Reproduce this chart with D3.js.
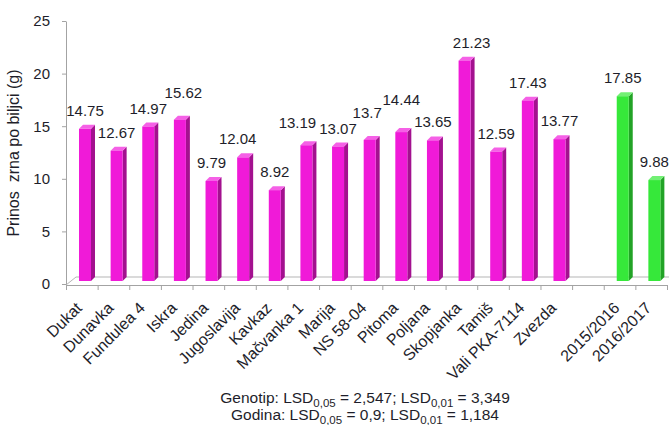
<!DOCTYPE html>
<html lang="sr">
<head>
<meta charset="UTF-8" />
<title>Prinos zrna po biljci</title>
<script src="https://d3js.org/d3.v7.min.js"></script>
<style>
  body { margin: 0; background: #fff; }
  text { font-family: "Liberation Sans", Arial, sans-serif; fill: #1e1e2a; }
  .axis path, .axis line { stroke: #a3a3a3; }
</style>
</head>
<body>
<svg width="669" height="425"></svg>
<script>
var genotypes = ["Dukat", "Dunavka", "Fundulea 4", "Iskra", "Jedina", "Jugoslavija", "Kavkaz",
  "Mačvanka 1", "Marija", "NS 58-04", "Pitoma", "Poljana", "Skopjanka", "Tamiš",
  "Vali PKA-7114", "Zvezda"];
var genotypeValues = [14.75, 12.67, 14.97, 15.62, 9.79, 12.04, 8.92, 13.19, 13.07, 13.7,
  14.44, 13.65, 21.23, 12.59, 17.43, 13.77];
var years = ["2015/2016", "2016/2017"];
var yearValues = [17.85, 9.88];
var yTicks = [0, 5, 10, 15, 20, 25];

// hand-placed value labels in the original
var labelNudge = {
  "Iskra": [3.5, -9], "Jugoslavija": [-5.5, 0], "Mačvanka 1": [-9, -4],
  "NS 58-04": [-2.5, -9], "Pitoma": [0, -14], "Skopjanka": [7, 0]
};

var svg = d3.select("svg");
var plotLeft = 66, plotRight = 667, plotBase = 284, plotTop = 21;
var depth = 4;

var categories = genotypes.concat(["gap"], years);
var bars = genotypes.map(function (g, i) {
  return { name: g, value: genotypeValues[i], kind: "g" };
}).concat(years.map(function (g, i) {
  return { name: g, value: yearValues[i], kind: "y" };
}));

var x = d3.scaleBand().domain(categories).range([plotLeft, plotRight]);
var xEdge = d3.scaleLinear().domain([0, categories.length]).range([plotLeft, plotRight]);
var y = d3.scaleLinear().domain([0, 25]).range([plotBase, plotTop]);

var colors = {
  g: { front: "#f01ad8", side: "#a3118f", top: "#f560e6" },
  y: { front: "#36e83a", side: "#22a326", top: "#72f074" }
};

// floor
svg.append("line")
  .attr("x1", plotLeft + 10).attr("x2", 669)
  .attr("y1", plotBase - 7).attr("y2", plotBase - 7)
  .attr("stroke", "#b5b5b5");
svg.append("line")
  .attr("x1", plotLeft).attr("x2", plotLeft + 10)
  .attr("y1", plotBase + 1).attr("y2", plotBase - 7)
  .attr("stroke", "#b5b5b5");

// y axis
svg.append("g")
  .attr("class", "axis")
  .attr("transform", "translate(" + plotLeft + ",0)")
  .call(d3.axisLeft(y).tickValues(yTicks).tickSize(4).tickSizeOuter(0).tickPadding(12))
  .call(function (g) {
    g.selectAll("text").attr("font-size", 15);
    g.attr("font-family", null).attr("font-size", null);
  });

// x axis with ticks on category edges
svg.append("g")
  .attr("class", "axis")
  .attr("transform", "translate(0," + (plotBase + 1) + ")")
  .call(d3.axisBottom(xEdge).ticks(categories.length).tickSize(5).tickSizeOuter(0).tickFormat(""));

// bars
var bar = svg.selectAll(".bar")
  .data(bars)
  .enter()
  .append("g")
  .attr("class", "bar");

function frontX(d) { return x(d.name) + 13; }
var bw = 12, bottom = plotBase - 3;

bar.append("path")
  .attr("fill", function (d) { return colors[d.kind].side; })
  .attr("d", function (d) {
    var x1 = frontX(d) + bw, yt = y(d.value);
    return "M" + x1 + "," + yt + "L" + (x1 + depth) + "," + (yt - depth) +
      "L" + (x1 + depth) + "," + (bottom - depth) + "L" + x1 + "," + bottom + "Z";
  });

bar.append("path")
  .attr("fill", function (d) { return colors[d.kind].top; })
  .attr("d", function (d) {
    var x0 = frontX(d), x1 = x0 + bw, yt = y(d.value);
    return "M" + x0 + "," + yt + "L" + (x0 + depth) + "," + (yt - depth) +
      "L" + (x1 + depth) + "," + (yt - depth) + "L" + x1 + "," + yt + "Z";
  });

bar.append("rect")
  .attr("fill", function (d) { return colors[d.kind].front; })
  .attr("x", frontX)
  .attr("y", function (d) { return y(d.value); })
  .attr("width", bw)
  .attr("height", function (d) { return bottom - y(d.value); });

bar.append("text")
  .attr("text-anchor", "middle")
  .attr("font-size", 15)
  .attr("x", function (d) {
    var n = labelNudge[d.name] || [0, 0];
    return frontX(d) + bw / 2 + n[0];
  })
  .attr("y", function (d) {
    var n = labelNudge[d.name] || [0, 0];
    return y(d.value) - 13 + n[1];
  })
  .text(function (d) { return d.value; });

// category labels
svg.selectAll(".cat")
  .data(bars)
  .enter()
  .append("text")
  .attr("class", "cat")
  .attr("font-size", 16)
  .attr("text-anchor", "end")
  .attr("transform", function (d) {
    return "translate(" + (x(d.name) + x.bandwidth() / 2 + 1) + "," + 309 + ") rotate(-45)";
  })
  .text(function (d) { return d.name; });

// y title
svg.append("text")
  .attr("transform", "translate(19,153) rotate(-90)")
  .attr("text-anchor", "middle")
  .attr("font-size", 16)
  .style("white-space", "pre")
  .text("Prinos  zrna po biljci (g)");

// LSD notes
var notes = [
  ["Genotip: LSD", "0,05", " = 2,547; LSD", "0,01", " = 3,349"],
  ["Godina: LSD", "0,05", " = 0,9; LSD", "0,01", " = 1,184"]
];
notes.forEach(function (parts, i) {
  var t = svg.append("text")
    .attr("x", 365).attr("y", 403 + i * 17)
    .attr("text-anchor", "middle")
    .attr("font-size", 15.5)
    .style("white-space", "pre");
  parts.forEach(function (p, j) {
    var s = t.append("tspan").text(p);
    if (j % 2 === 1) s.attr("font-size", 11.5).attr("dy", 4);
    else if (j > 0) s.attr("dy", -4);
  });
});
</script>
</body>
</html>
